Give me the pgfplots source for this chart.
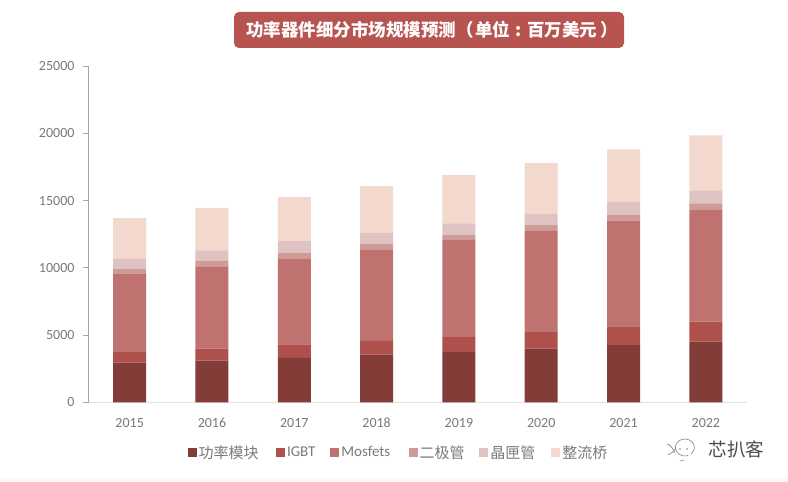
\documentclass[border=0pt]{standalone}
\usepackage{pgfplots}
\usepackage{fontspec}
\pgfplotsset{compat=1.18}
\setmainfont{Carlito}
\newfontfamily\cjk{Noto Sans CJK SC}
\definecolor{cA}{HTML}{843C39}
\definecolor{cB}{HTML}{AE514C}
\definecolor{cC}{HTML}{BF726F}
\definecolor{cD}{HTML}{CF9B97}
\definecolor{cE}{HTML}{DFC2C2}
\definecolor{cF}{HTML}{F3D8CD}
\definecolor{txt}{HTML}{7A7A7A}
\definecolor{titlebox}{HTML}{B85450}
\begin{document}
\begin{tikzpicture}[x=1pt,y=1pt]
\path[use as bounding box,fill=white] (0,0) rectangle (788,482);
\fill[fill=red!3!white] (0,0) rectangle (788,4);
\begin{axis}[
  at={(88.5pt,79.5pt)},anchor=south west,
  scale only axis,width=658.5pt,height=336.5pt,
  ybar stacked,bar width=33pt,
  xmin=-0.5,xmax=7.5,ymin=0,ymax=25000,
  xtick={0,...,7},
  xticklabels={2015,2016,2017,2018,2019,2020,2021,2022},
  ytick={0,5000,...,25000},
  scaled y ticks=false,
  axis x line*=bottom,axis y line*=left,
  x axis line style={draw=black!12,-,line width=1pt},
  y axis line style={draw=black!35,-,line width=1pt},
  xtick style={draw=none},
  ytick style={draw=black!35,line width=0.8pt},
  tick align=outside,
  major tick length=5.5pt,
  /pgf/number format/assume math mode=true,
  /pgf/number format/1000 sep={},
  tick label style={font=\fontsize{14}{14}\selectfont,text=txt},
  yticklabel style={xshift=-5pt},
  xticklabel style={yshift=-6pt,text height=10pt,text depth=0pt},
  legend columns=6,
  legend style={at={(99pt,-50pt)},anchor=west,draw=none,fill=none,
    font=\fontsize{15}{15}\selectfont\color{txt},inner sep=0pt,
    /tikz/every even column/.append style={column sep=3.5pt}},
  legend cell align=left,
  legend image code/.code={\fill[#1] (0pt,-4.5pt) rectangle (9pt,4.5pt);},
  every axis plot/.append style={draw=none},
]
\addplot[fill=cA] coordinates {(0,2970)(1,3120)(2,3310)(3,3566)(4,3760)(5,4010)(6,4260)(7,4520)};
\addplot[fill=cB] coordinates {(0,770)(1,890)(2,1000)(3,1014)(4,1090)(5,1210)(6,1390)(7,1480)};
\addplot[fill=cC] coordinates {(0,5790)(1,6060)(2,6390)(3,6790)(4,7210)(5,7530)(6,7870)(7,8350)};
\addplot[fill=cD] coordinates {(0,420)(1,450)(2,440)(3,390)(4,370)(5,420)(6,430)(7,450)};
\addplot[fill=cE] coordinates {(0,720)(1,790)(2,850)(3,840)(4,870)(5,870)(6,950)(7,930)};
\addplot[fill=cF] coordinates {(0,3020)(1,3150)(2,3270)(3,3470)(4,3610)(5,3770)(6,3900)(7,4120)};
\legend{{\makebox[71.8pt][l]{\cjk 功率模块}},{\makebox[37.9pt][l]{IGBT}},{\makebox[61.8pt][l]{Mosfets}},{\makebox[54.2pt][l]{\cjk 二极管}},{\makebox[55.5pt][l]{\cjk 晶匣管}},{\cjk 整流桥}}
\end{axis}
% title
\fill[titlebox,rounded corners=5pt] (234,434) rectangle (624,470);
\node[text=white,anchor=center,font=\cjk\bfseries\fontsize{17.5}{18}\selectfont] at (432,452) {功率器件细分市场规模预测（\hspace{2pt}单位\makebox[17pt][c]{:}百万美元\hspace{3pt}）};
% watermark
\begin{scope}[draw=black!50,line width=0.6pt]
\draw (691,28) arc (-50:290:9.5 and 8.5);
\draw (680,21) -- (684,22);
\draw (667,38) .. controls (671,37) and (673,33) .. (675,29);
\draw (668,27) .. controls (671,28) and (673,30) .. (676,34);
\fill[black!50] (680,33) circle (0.8);
\fill[black!50] (687,33) circle (0.8);
\end{scope}
\node[text=black!70,anchor=west,font=\cjk\fontsize{18.5}{18}\selectfont] at (705,33) {芯扒客};
\end{tikzpicture}
\end{document}
